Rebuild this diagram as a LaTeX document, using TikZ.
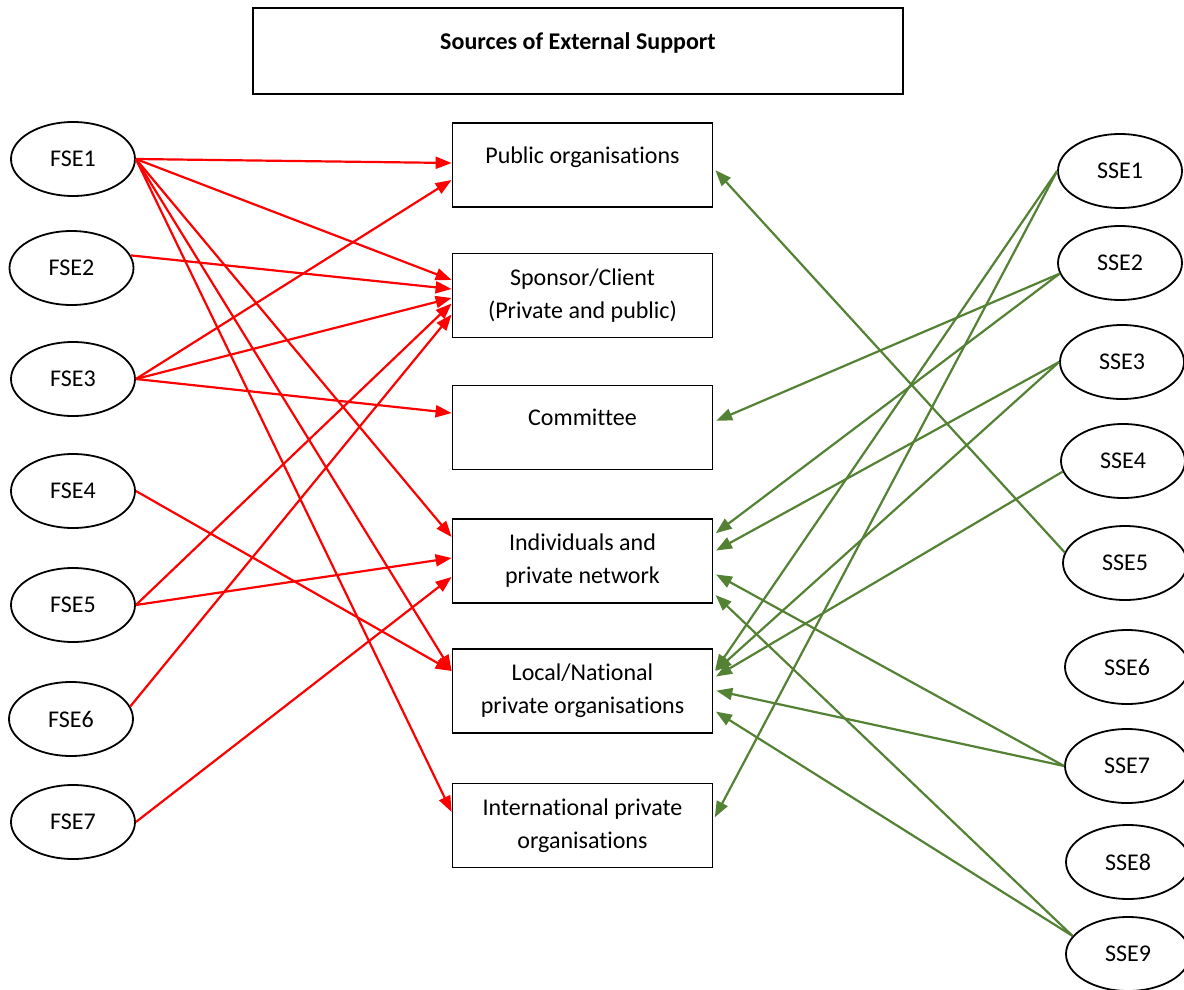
\documentclass[tikz,border=0pt]{standalone}
\usepackage{fontspec}
\setmainfont{Carlito}[Ligatures=NoCommon]
\usetikzlibrary{arrows.meta,shapes.geometric}
\definecolor{linkred}{RGB}{255,0,0}
\definecolor{linkgreen}{RGB}{84,130,53}
\begin{document}
\begin{tikzpicture}[x=1pt,y=-1pt,
  every node/.style={font=\fontsize{24}{33}\selectfont},
  titlebox/.style={draw=black, line width=1.8pt, minimum width=650pt, minimum height=86pt,
    inner sep=0pt, text height=42pt, text depth=44pt, font=\fontsize{24}{33}\selectfont\bfseries},
  srcbox/.style={draw=black, line width=1.8pt, minimum width=260pt, minimum height=84pt,
    inner sep=0pt, align=center},
  topline/.style={text height=40pt, text depth=44pt},
  srcoval/.style={draw=black, ellipse, line width=1.8pt, minimum width=124pt, minimum height=74pt, inner sep=0pt},
  redlink/.style={draw=linkred, line width=2.2pt, -{Triangle[length=16pt,width=12pt]}},
  greenlink/.style={draw=linkgreen, line width=2.2pt, shorten >=3pt, -{Triangle[length=16pt,width=12pt]}}]
\useasboundingbox (0,0) rectangle (1184,990);

% title
\node[titlebox] (ttl) at (578,51) {Sources of External Support};

% central boxes
\node[srcbox,topline] (pub)  at (582.5,165)   {Public organisations};
\node[srcbox]         (spon) at (582.5,295.5) {Sponsor/Client\\(Private and public)};
\node[srcbox,topline] (comm) at (582.5,427.5) {Committee};
\node[srcbox]         (ind)  at (582.5,561)   {Individuals and\\private network};
\node[srcbox]         (loc)  at (582.5,691)   {Local/National\\private organisations};
\node[srcbox]         (intl) at (582.5,825.5) {International private\\organisations};

% left ovals
\node[srcoval] (f1) at (73,159)   {FSE1};
\node[srcoval] (f2) at (71.5,268) {FSE2};
\node[srcoval] (f3) at (73,379)   {FSE3};
\node[srcoval] (f4) at (73,491)   {FSE4};
\node[srcoval] (f5) at (73,605)   {FSE5};
\node[srcoval] (f6) at (71,719)   {FSE6};
\node[srcoval] (f7) at (73,822)   {FSE7};

% right ovals
\node[srcoval] (s1) at (1120,171) {SSE1};
\node[srcoval] (s2) at (1120,263) {SSE2};
\node[srcoval] (s3) at (1122,362) {SSE3};
\node[srcoval] (s4) at (1123,461) {SSE4};
\node[srcoval] (s5) at (1125,563) {SSE5};
\node[srcoval] (s6) at (1127,667) {SSE6};
\node[srcoval] (s7) at (1127,766) {SSE7};
\node[srcoval] (s8) at (1128,862) {SSE8};
\node[srcoval] (s9) at (1128,954) {SSE9};

% red links
\draw[redlink] (f1.east) -- ([yshift=2pt]pub.west);
\draw[redlink] (f1.east) -- ([yshift=15.5pt]spon.west);
\draw[redlink] (f1.east) -- ([yshift=24pt]ind.west);
\draw[redlink] (f1.east) -- ([yshift=20pt]loc.west);
\draw[redlink] (f1.east) -- ([yshift=13.5pt]intl.west);
\draw[redlink] (f2.12)   -- ([yshift=6.5pt]spon.west);
\draw[redlink] (f3.east) -- ([yshift=-15pt]pub.west);
\draw[redlink] (f3.east) -- ([yshift=-2.5pt]spon.west);
\draw[redlink] (f3.east) -- ([yshift=14.5pt]comm.west);
\draw[redlink] (f4.east) -- ([yshift=20pt]loc.west);
\draw[redlink] (f5.east) -- ([yshift=-8pt]spon.west);
\draw[redlink] (f5.east) -- ([yshift=3pt]ind.west);
\draw[redlink] (f6.12)   -- ([yshift=-19pt]spon.west);
\draw[redlink] (f7.east) -- ([yshift=-16pt]ind.west);

% green links
\draw[greenlink] (s1.west) -- ([yshift=18pt]loc.east);
\draw[greenlink] (s1.west) -- ([yshift=5.5pt]intl.east);
\draw[greenlink] (s2.190)  -- ([yshift=5.5pt]comm.east);
\draw[greenlink] (s2.190)  -- ([yshift=26pt]ind.east);
\draw[greenlink] (s3.west) -- ([yshift=9pt]ind.east);
\draw[greenlink] (s3.west) -- ([yshift=18pt]loc.east);
\draw[greenlink] (s4.190)  -- ([yshift=13pt]loc.east);
\draw[greenlink] (s5.170)  -- ([yshift=-3pt]pub.east);
\draw[greenlink] (s7.west) -- ([yshift=-12pt]ind.east);
\draw[greenlink] (s7.west) -- ([yshift=1pt]loc.east);
\draw[greenlink] (s9.162)  -- ([yshift=-32pt]ind.east);
\draw[greenlink] (s9.162)  -- ([yshift=-19pt]loc.east);
\end{tikzpicture}
\end{document}
